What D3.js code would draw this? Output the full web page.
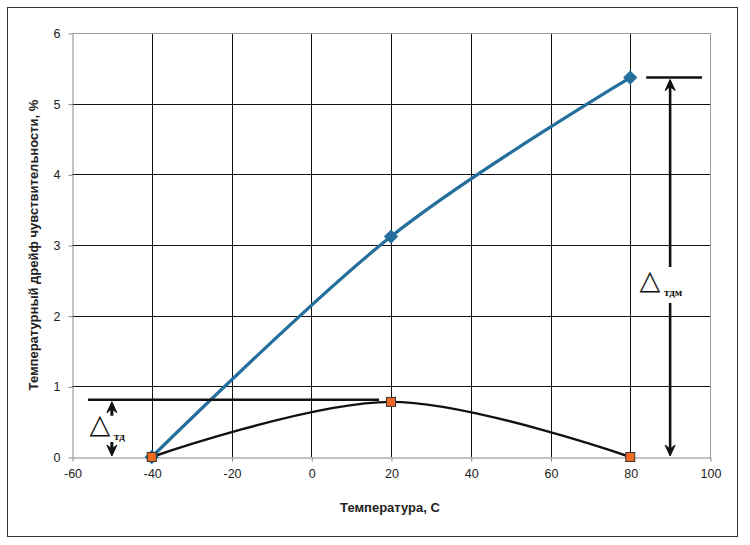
<!DOCTYPE html>
<html>
<head>
<meta charset="utf-8">
<script src="https://cdn.jsdelivr.net/npm/d3@7"></script>
<style>
  html, body { margin: 0; padding: 0; background: #fff; }
  #drift-chart { width: 750px; height: 545px; }
</style>
</head>
<body>
<div id="drift-chart"></div>
<script>
// Data
const temperatures = [-40, 20, 80];
const driftMax = [0, 3.12, 5.37];
const driftMin = [0, 0.78, 0];
const xTicks = [-60, -40, -20, 0, 20, 40, 60, 80, 100];
const yTicks = [0, 1, 2, 3, 4, 5, 6];
const xTitle = 'Температура, С';
const yTitle = 'Температурный дрейф чувствительности, %';

// Annotation levels (data units)
const tdLevel = 0.81;
const tdLine = [-56, 17];
const tdArrowX = -50;
const tdmLevel = 5.37;
const tdmLine = [84, 98];
const tdmArrowX = 90;

function initDriftChart() {
  const width = 750;
  const height = 545;
  const margin = { top: 33, right: 40, bottom: 88, left: 72 };
  const innerWidth = 710 - margin.left;
  const innerHeight = 457 - margin.top;

  const svg = d3.select('#drift-chart')
    .append('svg')
    .attr('width', width)
    .attr('height', height)
    .style('font-family', '"Liberation Sans", Arial, sans-serif');

  // Outer frame
  svg.append('rect')
    .attr('x', 7.5)
    .attr('y', 7.5)
    .attr('width', 730)
    .attr('height', 529)
    .attr('fill', '#fff')
    .attr('stroke', '#333')
    .attr('stroke-width', 1);

  const g = svg.append('g')
    .attr('transform', `translate(${margin.left},${margin.top})`);

  // Scales
  const xScale = d3.scaleLinear()
    .domain([-60, 100])
    .range([0, innerWidth]);

  const yScale = d3.scaleLinear()
    .domain([0, 6])
    .range([innerHeight, 0]);

  // Grid
  g.append('g')
    .selectAll('line')
    .data(yTicks.slice(1, -1))
    .enter().append('line')
    .attr('x1', 0)
    .attr('x2', innerWidth)
    .attr('y1', d => Math.round(yScale(d)) + 0.5)
    .attr('y2', d => Math.round(yScale(d)) + 0.5)
    .style('stroke', '#111');

  g.append('g')
    .selectAll('line')
    .data(xTicks.slice(1, -1))
    .enter().append('line')
    .attr('y1', 0)
    .attr('y2', innerHeight)
    .attr('x1', d => Math.round(xScale(d)) + 0.5)
    .attr('x2', d => Math.round(xScale(d)) + 0.5)
    .style('stroke', '#111');

  // Plot border (top / right)
  g.append('path')
    .attr('d', `M0.5,0.5H${innerWidth + 0.5}V${innerHeight + 0.5}`)
    .attr('fill', 'none')
    .style('stroke', '#999');

  // Axes
  const xAxis = g.append('g')
    .attr('transform', `translate(0.5,${innerHeight + 0.5})`)
    .call(d3.axisBottom(xScale)
      .tickValues(xTicks)
      .tickSizeInner(4)
      .tickSizeOuter(0)
      .tickPadding(8)
      .tickFormat(d => d < 0 ? '-' + Math.abs(d) : d)
    );

  const yAxis = g.append('g')
    .attr('transform', 'translate(0.5,0.5)')
    .call(d3.axisLeft(yScale)
      .tickValues(yTicks)
      .tickSizeInner(4)
      .tickSizeOuter(0)
      .tickPadding(8)
      .tickFormat(d3.format('d'))
    );

  [xAxis, yAxis].forEach(axis => {
    axis.select('.domain').style('stroke', '#888');
    axis.selectAll('line').style('stroke', '#888');
    axis.selectAll('text')
      .style('fill', '#222')
      .style('font-family', '"Liberation Sans", Arial, sans-serif')
      .style('font-size', '12.5px');
  });

  // Axis titles
  g.append('text')
    .attr('transform', 'rotate(-90)')
    .attr('x', -(245 - margin.top))
    .attr('y', 33 - margin.left)
    .attr('dy', '0.35em')
    .style('text-anchor', 'middle')
    .style('font-weight', 'bold')
    .style('font-size', '13px')
    .style('fill', '#222')
    .text(yTitle);

  g.append('text')
    .attr('x', 390 - margin.left)
    .attr('y', 507 - margin.top)
    .attr('dy', '0.35em')
    .style('text-anchor', 'middle')
    .style('font-weight', 'bold')
    .style('font-size', '13px')
    .style('fill', '#222')
    .text(xTitle);

  // Smoothed series lines
  const line = d3.line()
    .x(d => xScale(d[0]))
    .y(d => yScale(d[1]))
    .curve(d3.curveCardinal.tension(0));

  const maxPoints = temperatures.map((t, i) => [t, driftMax[i]]);
  const minPoints = temperatures.map((t, i) => [t, driftMin[i]]);

  g.append('path')
    .datum(maxPoints)
    .attr('fill', 'none')
    .attr('stroke', '#256f9c')
    .attr('stroke-width', 3.2)
    .attr('d', line);

  g.append('path')
    .datum(minPoints)
    .attr('fill', 'none')
    .attr('stroke', '#111')
    .attr('stroke-width', 2.4)
    .attr('d', line);

  // Markers
  g.selectAll('.max-marker')
    .data(maxPoints)
    .enter().append('path')
    .attr('class', 'max-marker')
    .attr('transform', d => `translate(${xScale(d[0])},${yScale(d[1])})`)
    .attr('d', d3.symbol(d3.symbolDiamond2, 130))
    .attr('fill', '#256f9c');

  g.selectAll('.min-marker')
    .data(minPoints)
    .enter().append('rect')
    .attr('class', 'min-marker')
    .attr('x', d => xScale(d[0]) - 4.5)
    .attr('y', d => yScale(d[1]) - 4.5)
    .attr('width', 9)
    .attr('height', 9)
    .attr('fill', '#f26a21')
    .attr('stroke', '#333')
    .attr('stroke-width', 1);

  // Annotations
  const arrowHead = (x, y, dir) => {
    const s = dir; // -1 points up, 1 points down
    return `M${x - 5},${y - s * 11}L${x},${y}L${x + 5},${y - s * 11}L${x},${y - s * 7}Z`;
  };

  const ann = g.append('g')
    .attr('stroke', '#111')
    .attr('fill', '#111');

  // Left: Δтд
  ann.append('line')
    .attr('x1', xScale(tdLine[0]))
    .attr('x2', xScale(tdLine[1]))
    .attr('y1', yScale(tdLevel))
    .attr('y2', yScale(tdLevel))
    .attr('stroke-width', 2.4);

  const tdX = xScale(tdArrowX);
  ann.append('line')
    .attr('x1', tdX).attr('x2', tdX)
    .attr('y1', yScale(tdLevel) + 5).attr('y2', yScale(tdLevel) + 16)
    .attr('stroke-width', 3);
  ann.append('path')
    .attr('d', arrowHead(tdX, yScale(tdLevel) + 2, -1))
    .attr('stroke-width', 1);
  ann.append('line')
    .attr('x1', tdX).attr('x2', tdX)
    .attr('y1', yScale(0) - 15).attr('y2', yScale(0) - 5)
    .attr('stroke-width', 3);
  ann.append('path')
    .attr('d', arrowHead(tdX, yScale(0) - 1, 1))
    .attr('stroke-width', 1);

  g.append('text')
    .attr('x', 100 - margin.left)
    .attr('y', 433 - margin.top)
    .style('text-anchor', 'middle')
    .style('font-family', '"DejaVu Sans", sans-serif')
    .style('font-size', '27px')
    .style('fill', '#111')
    .text('△');
  g.append('text')
    .attr('x', 114 - margin.left)
    .attr('y', 440 - margin.top)
    .style('font-family', '"Liberation Serif", serif')
    .style('font-weight', 'bold')
    .style('font-size', '11px')
    .style('fill', '#111')
    .text('тд');

  // Right: Δтдм
  ann.append('line')
    .attr('x1', xScale(tdmLine[0]))
    .attr('x2', xScale(tdmLine[1]))
    .attr('y1', yScale(tdmLevel))
    .attr('y2', yScale(tdmLevel))
    .attr('stroke-width', 2.4);

  const tdmX = xScale(tdmArrowX);
  ann.append('line')
    .attr('x1', tdmX).attr('x2', tdmX)
    .attr('y1', yScale(tdmLevel) + 5).attr('y2', 267 - margin.top)
    .attr('stroke-width', 2.6);
  ann.append('path')
    .attr('d', arrowHead(tdmX, yScale(tdmLevel) + 2, -1))
    .attr('stroke-width', 1);
  ann.append('line')
    .attr('x1', tdmX).attr('x2', tdmX)
    .attr('y1', 303 - margin.top).attr('y2', yScale(0) - 5)
    .attr('stroke-width', 2.6);
  ann.append('path')
    .attr('d', arrowHead(tdmX, yScale(0) - 1, 1))
    .attr('stroke-width', 1);

  g.append('text')
    .attr('x', 650 - margin.left)
    .attr('y', 289 - margin.top)
    .style('text-anchor', 'middle')
    .style('font-family', '"DejaVu Sans", sans-serif')
    .style('font-size', '27px')
    .style('fill', '#111')
    .text('△');
  g.append('text')
    .attr('x', 664 - margin.left)
    .attr('y', 296 - margin.top)
    .style('font-family', '"Liberation Serif", serif')
    .style('font-weight', 'bold')
    .style('font-size', '11px')
    .style('fill', '#111')
    .text('тдм');
}

if (document.readyState === 'loading') {
  document.addEventListener('DOMContentLoaded', initDriftChart);
} else {
  initDriftChart();
}
</script>
</body>
</html>
